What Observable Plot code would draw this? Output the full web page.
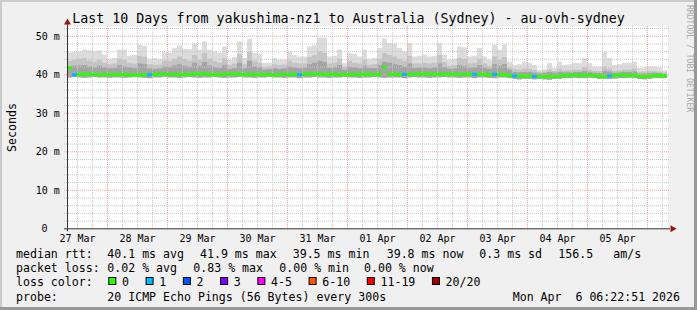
<!DOCTYPE html>
<html><head><meta charset="utf-8">
<script src="https://cdn.jsdelivr.net/npm/d3@7"></script>
<script src="https://cdn.jsdelivr.net/npm/@observablehq/plot@0.6"></script>
<style>
html,body{margin:0;padding:0;background:#f0f0f0;}
#chart{width:697px;height:310px;position:relative;overflow:hidden;}
svg text{white-space:pre;}
</style></head><body><div id="chart"></div>
<script>
// ---- data (2-hour steps starting 27 Mar 08:00) ----
const startTime = "2026-03-27T08:00:00Z";
const endTime = "2026-04-06T08:00:00Z";
const stepHours = 2;

const median = [
41.8,40.0,40.1,40.1,40.2,40.0,39.9,40.1,40.0,40.0,
40.1,40.0,40.0,39.9,39.9,40.0,40.0,40.1,40.1,40.2,
40.1,40.0,40.0,40.1,40.0,40.1,40.2,40.2,40.1,40.0,
40.0,40.1,40.2,40.2,40.1,40.0,40.1,40.0,40.1,40.0,
40.0,39.9,40.0,40.1,40.0,40.1,40.0,40.1,40.2,40.2,
40.2,40.1,40.0,40.1,40.0,40.0,40.1,40.0,40.1,40.1,
40.1,40.0,40.1,41.9,40.1,40.1,40.0,40.1,40.1,40.1,
40.2,40.1,40.1,40.1,40.1,40.1,40.2,40.1,40.1,40.0,
40.2,40.1,40.1,40.0,40.0,40.1,40.0,40.0,39.8,39.7,
39.7,39.6,39.7,39.6,39.5,39.5,39.6,39.5,39.7,39.8,
39.9,39.9,39.9,39.8,39.9,39.8,39.6,39.5,39.7,39.8,
39.9,39.9,39.8,39.9,39.6,39.5,39.6,39.8,39.8,39.8];

const lossCount = [
0,1,0,0,0,0,0,0,0,0, 0,0,0,0,0,0,1,0,0,0,
0,0,0,0,0,0,0,0,0,0, 0,0,0,0,0,0,0,0,0,0,
0,0,0,0,0,0,1,0,0,0, 0,0,0,0,0,0,0,0,0,0,
0,0,0,0,0,0,0,1,0,0, 0,0,0,0,0,0,0,0,0,0,
0,1,0,0,0,1,0,0,0,1, 0,0,0,1,0,0,0,0,0,0,
0,0,0,0,0,0,0,0,1,0, 0,0,0,0,0,0,0,0,0,0];

const smokeMax = [
45.7,45.7,45.9,46.4,46.2,46.0,46.2,45.1,44.0,44.2,
46.4,46.4,44.8,45.0,47.6,47.4,44.0,44.2,44.0,45.7,
45.6,46.8,47.5,46.6,46.5,48.0,46.4,48.5,46.4,46.0,
45.5,47.2,43.8,44.5,48.5,44.2,49.2,45.5,45.4,42.9,
43.0,44.2,43.8,43.8,45.9,45.0,44.6,44.6,47.2,47.5,
49.5,49.5,44.6,44.8,46.4,42.9,45.5,45.3,44.6,46.4,
44.0,44.2,46.8,49.3,48.1,48.0,46.8,45.9,48.1,44.6,
44.8,45.1,44.6,44.8,48.1,45.1,43.8,44.0,47.2,47.0,
44.6,44.8,46.8,44.6,43.8,47.7,46.4,47.7,43.3,42.4,
42.6,43.3,43.0,42.4,41.1,41.3,42.9,41.6,43.3,42.4,
42.6,42.9,42.9,44.2,42.9,42.0,42.0,45.9,44.2,42.4,
42.6,42.9,43.0,43.3,41.6,41.8,42.0,42.0,41.8,41.1];

const smokeHigh = [
43.5,43.8,44.0,44.2,43.6,43.2,43.8,43.0,42.6,42.8,
44.0,43.6,43.0,42.8,44.8,44.5,42.6,42.4,42.5,43.6,
43.4,44.0,44.6,44.0,43.5,45.0,43.8,45.5,44.0,43.4,
43.0,44.2,42.4,42.8,45.2,42.6,45.8,43.5,43.0,41.8,
42.0,42.6,42.4,42.5,43.5,43.0,42.8,42.8,44.5,45.0,
46.0,45.5,42.8,43.0,44.0,41.9,43.5,43.0,42.8,43.8,
42.5,42.6,44.0,45.5,45.0,44.6,44.0,43.5,44.8,42.8,
42.8,43.0,42.8,43.0,45.0,43.2,42.2,42.4,44.2,44.0,
42.8,43.0,44.0,42.8,42.2,44.6,43.8,44.5,41.8,41.4,
41.2,41.5,41.4,41.1,40.6,40.7,41.2,40.8,41.4,41.0,
41.1,41.2,41.2,41.8,41.2,40.9,40.8,42.0,41.5,40.9,
41.0,41.2,41.2,41.4,40.6,40.7,40.8,40.8,40.7,40.5];

const smokeMid = [
42.0,42.2,42.3,42.4,42.0,41.8,42.2,41.8,41.6,41.7,
42.4,42.0,41.8,41.6,42.8,42.6,41.5,41.4,41.5,42.0,
41.9,42.3,42.6,42.2,42.0,43.0,42.2,43.2,42.3,41.9,
41.7,42.4,41.4,41.6,43.0,41.5,43.5,42.0,41.8,41.2,
41.3,41.6,41.4,41.5,42.0,41.8,41.6,41.7,42.6,43.0,
43.5,43.2,41.7,41.8,42.4,41.2,42.0,41.8,41.6,42.2,
41.6,41.6,42.4,43.2,43.0,42.6,42.4,42.0,42.8,41.7,
41.7,41.8,41.6,41.8,42.8,41.9,41.4,41.5,42.4,42.2,
41.7,41.8,42.4,41.7,41.4,42.6,42.2,42.6,41.2,40.6,
40.5,40.6,40.6,40.4,40.2,40.3,40.6,40.4,40.6,40.5,
40.5,40.6,40.6,40.8,40.6,40.4,40.3,40.9,40.7,40.4,
40.5,40.6,40.6,40.7,40.2,40.2,40.3,40.4,40.3,40.1];

const smokeLow = [
39.2,39.3,39.2,39.1,39.2,39.3,39.2,39.2,39.1,39.2,
39.2,39.1,39.2,39.3,39.2,39.1,39.0,39.2,39.2,39.3,
39.2,39.2,39.1,39.2,39.3,39.2,39.1,39.2,39.2,39.3,
39.2,39.1,39.2,39.2,39.3,39.2,39.2,39.1,39.2,39.2,
39.3,39.2,39.2,39.1,39.2,39.2,39.0,39.2,39.2,39.3,
39.2,39.2,39.1,39.2,39.2,39.3,39.2,39.2,39.1,39.2,
39.2,39.3,39.2,39.1,39.2,39.2,39.2,39.0,39.2,39.3,
39.2,39.2,39.1,39.2,39.2,39.3,39.2,39.2,39.1,39.2,
39.2,39.0,39.2,39.2,39.1,39.0,39.2,39.2,39.0,38.8,
38.7,38.8,38.8,38.7,38.8,38.7,38.6,38.8,38.8,39.0,
39.0,39.1,39.0,39.0,39.1,39.0,38.8,38.8,38.8,38.9,
39.0,39.0,39.1,39.0,38.8,38.7,38.8,39.0,39.0,39.0];

const dayLabels = ["27 Mar","28 Mar","29 Mar","30 Mar","31 Mar","01 Apr","02 Apr","03 Apr","04 Apr","05 Apr"];
const dayLabelTimes = ["2026-03-27T12:00:00Z","2026-03-28T12:00:00Z","2026-03-29T12:00:00Z","2026-03-30T12:00:00Z","2026-03-31T12:00:00Z","2026-04-01T12:00:00Z","2026-04-02T12:00:00Z","2026-04-03T12:00:00Z","2026-04-04T12:00:00Z","2026-04-05T12:00:00Z"];
const yTickValues = [10,20,30,40,50];
const yTickLabels = ["10 m","20 m","30 m","40 m","50 m"];
const yZeroLabel = "0";

const lossColors = ["#26ff00","#00b8ff","#0059ff","#7e00ff","#ff00ff","#ff5500","#ff0000","#a10000"];
const lossLabels = ["0","1","2","3","4-5","6-10","11-19","20/20"];

const titleText = "Last 10 Days from yakushima-nz1 to Australia (Sydney) - au-ovh-sydney";
const yAxisTitle = "Seconds";
const watermark = "RRDTOOL / TOBI OETIKER";
const legendRtt = [["median rtt:",16],["40.1 ms avg",107.3],["41.9 ms max",200],["39.5 ms min",292.7],["39.8 ms now",386.7],["0.3 ms sd",479.3],["156.5",558.3],["am/s",613.3]];
const legendLoss = [["packet loss:",16],["0.02 % avg",107.3],["0.83 % max",193.3],["0.00 % min",279.3],["0.00 % now",364]];
const legendProbe = [["probe:",16],["20 ICMP Echo Pings (56 Bytes) every 300s",107.3]];
const stampText = "Mon Apr  6 06:22:51 2026";

// ---- build table ----
const t0ms = Date.parse(startTime), stepMs = stepHours*3600e3;
const rows = median.map((m,i)=>({
  t0:new Date(t0ms+i*stepMs), t1:new Date(t0ms+(i+1)*stepMs),
  median:m, loss:lossCount[i], max:smokeMax[i], high:smokeHigh[i], mid:smokeMid[i], low:smokeLow[i]
}));
const start = new Date(startTime), end = new Date(endTime);
const hours6 = d3.utcHour.every(6).range(start, end);
const minorX = hours6.filter(d=>d.getUTCHours()!==0);
const majorX = hours6.filter(d=>d.getUTCHours()===0);
const minorY = d3.range(2,53,2).filter(v=>v%10!==0);
const majorY = [10,20,30,40,50];
const labelRows = dayLabels.map((l,i)=>({label:l, t:new Date(dayLabelTimes[i])}));
const yRows = yTickValues.map((v,i)=>({v, label:yTickLabels[i]}));

const FONT = "DejaVu Sans Mono";
const chart = Plot.plot({
  width:697, height:310,
  marginLeft:67, marginRight:30, marginTop:26.1, marginBottom:81.7,
  x:{type:"utc", domain:[start,end], axis:null},
  y:{domain:[0,52.5], axis:null},
  style:{background:"transparent", fontFamily:FONT},
  marks:[
    Plot.frame({fill:"#ffffff", stroke:null}),
    Plot.rect(rows,{x1:"t0",x2:"t1",y1:"low",y2:"max",fill:"#dcdcdc"}),
    Plot.rect(rows,{x1:"t0",x2:"t1",y1:"low",y2:"high",fill:"#c4c4c4"}),
    Plot.rect(rows,{x1:"t0",x2:"t1",y1:"low",y2:"mid",fill:"#a4a4a4"}),
    Plot.ruleX(minorX,{stroke:"#c8c8c8",strokeDasharray:"1,1",insetBottom:-2}),
    Plot.ruleY(minorY,{stroke:"#c8c8c8",strokeDasharray:"1,1",insetLeft:-3,insetRight:-3}),
    Plot.ruleX(majorX,{stroke:"#f0a0a0",strokeDasharray:"1,1",insetBottom:-2}),
    Plot.ruleY(majorY,{stroke:"#f0a0a0",strokeDasharray:"1,1",insetLeft:-3,insetRight:-3}),
    Plot.ruleY(rows,{y:"median",x1:"t0",x2:"t1",stroke:d=>lossColors[d.loss],strokeWidth:3}),
    Plot.ruleX([start],{stroke:"#333333",insetTop:-3,insetBottom:-3}),
    Plot.ruleY([0],{stroke:"#333333",insetLeft:-3,insetRight:-3}),
    Plot.dot([start],{x:d=>d,y:()=>52.5,symbol:"triangle",r:2.6,fill:"#a01010",stroke:null,dy:-4}),
    Plot.dot([end],{x:d=>d,y:()=>0,symbol:"triangle",r:2.6,fill:"#a01010",stroke:null,dx:5,rotate:90}),
    Plot.text(labelRows,{x:"t",y:()=>0,text:"label",lineAnchor:"bottom",dy:12.8,fontSize:10,fill:"#000"}),
    Plot.text(yRows,{x:()=>start,y:"v",text:"label",lineAnchor:"bottom",textAnchor:"end",dx:-7.7,dy:3.4,fontSize:10,fill:"#000"}),
    Plot.text([yZeroLabel],{x:()=>start,y:()=>0,text:d=>d,lineAnchor:"bottom",textAnchor:"end",dx:-20,dy:3.4,fontSize:10,fill:"#000"})
  ]
});
document.getElementById("chart").appendChild(chart);

// ---- surrounding text & legend ----
const svg = d3.select(chart);
// 3D border
svg.append("rect").attr("x",0).attr("y",0).attr("width",697).attr("height",2).attr("fill","#cbcbcb");
svg.append("rect").attr("x",0).attr("y",0).attr("width",2).attr("height",310).attr("fill","#cbcbcb");
svg.append("rect").attr("x",0).attr("y",307).attr("width",697).attr("height",3).attr("fill","#999999");
svg.append("rect").attr("x",694).attr("y",0).attr("width",3).attr("height",310).attr("fill","#999999");

const T = (txt,x,y,size,opts={})=>{
  const t = svg.append("text").attr("x",x).attr("y",y).attr("font-family",FONT).attr("font-size",size)
    .attr("fill",opts.fill||"#000").attr("text-anchor",opts.anchor||"start").text(txt);
  if(opts.transform) t.attr("transform",opts.transform).attr("x",0).attr("y",0);
  return t;
};
T(titleText,348.5,23.2,13.3,{anchor:"middle"});
T(yAxisTitle,0,0,11.58,{anchor:"middle",transform:"translate(15.5,127.5) rotate(-90)"});
T(watermark,0,0,8.1,{fill:"#a8a8a8",transform:"translate(686.5,5) rotate(90)"});

const LS = 11.58;
legendRtt.forEach(([s,x])=>T(s,x,257.6,LS));
legendLoss.forEach(([s,x])=>T(s,x,271.9,LS));
T("loss color:",16,286.2,LS);
let bx = 108.3;
lossLabels.forEach((l,i)=>{
  svg.append("rect").attr("x",bx+0.5).attr("y",277.5).attr("width",7).attr("height",7)
    .attr("fill",lossColors[i]).attr("stroke","#000").attr("stroke-width",1);
  T(l,bx+13.7,286.2,LS);
  bx += 30.3 + 6.97*l.length;
});
legendProbe.forEach(([s,x])=>T(s,x,300.5,LS));
T(stampText,680,300.5,LS,{anchor:"end"});
</script></body></html>
